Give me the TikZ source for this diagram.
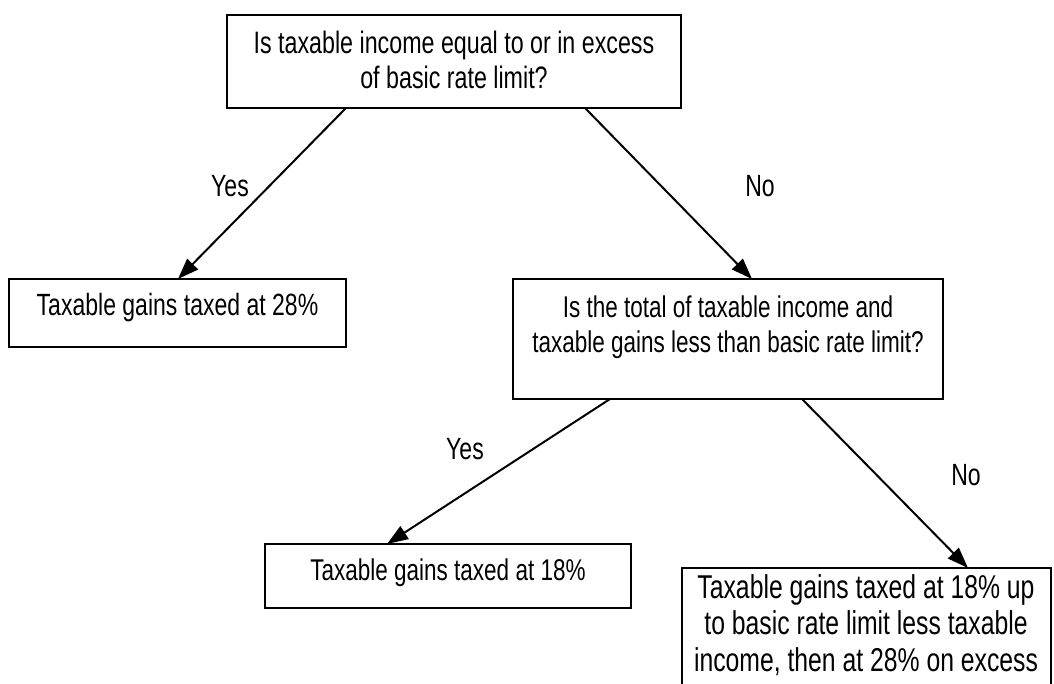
\documentclass[tikz,border=0pt]{standalone}
\usepackage{fontspec}
\setmainfont[FakeStretch=0.75]{Liberation Sans}
\usetikzlibrary{arrows.meta}
\tikzset{
  box/.style={draw=black, line width=2pt, rectangle, inner sep=0pt, outer sep=0pt, anchor=north west},
  txt/.style={inner sep=0pt, anchor=north, align=center, font=\fontsize{30.7}{35}\selectfont},
  lbl/.style={inner sep=0pt, font=\fontsize{30.7}{35}\selectfont},
  arr/.style={line width=2pt, -{Triangle[length=21pt,width=15pt]}}
}
\begin{document}
\begin{tikzpicture}[x=1pt,y=-1pt]
\useasboundingbox (0,0) rectangle (1054,684);
\clip (0,0) rectangle (1054,684);
% boxes
\node[box, minimum width=454pt, minimum height=93pt] (q1) at (227,15) {};
\node[box, minimum width=337pt, minimum height=68pt] (q2) at (9,279) {};
\node[box, minimum width=430pt, minimum height=120pt] (q3) at (513,279) {};
\node[box, minimum width=366pt, minimum height=64pt] (q4) at (265,544) {};
\node[box, minimum width=369pt, minimum height=160pt] (q5) at (682,568) {};
% texts
\node[txt, font=\fontsize{31}{35}\selectfont] (t1) at (454,31) {Is taxable income equal to or in excess\\of basic rate limit?};
\node[txt] (t2) at (177.5,293) {Taxable gains taxed at 28\%};
\node[txt, font=\fontsize{30}{35}\selectfont] (t3) at (728,296) {Is the total of taxable income and\\taxable gains less than basic rate limit?};
\node[txt, font=\fontsize{30}{35}\selectfont] (t4) at (448,559) {Taxable gains taxed at 18\%};
\node[txt, font=\fontsize{33}{36.5}\selectfont] (t5) at (866,574) {Taxable gains taxed at 18\% up\\to basic rate limit less taxable\\income, then at 28\% on excess};
% labels
\node[lbl] (y1) at (230,186) {Yes};
\node[lbl] (n1) at (760,186) {No};
\node[lbl] (y2) at (465,449) {Yes};
\node[lbl] (n2) at (966,475) {No};
% connectors
\draw[arr] ([xshift=119pt]q1.south west) -- ([xshift=169pt]q2.north west);
\draw[arr] ([xshift=358pt]q1.south west) -- ([xshift=239pt]q3.north west);
\draw[arr] ([xshift=97pt]q3.south west) -- ([xshift=122pt]q4.north west);
\draw[arr] ([xshift=289pt]q3.south west) -- ([xshift=286pt]q5.north west);
\end{tikzpicture}
\end{document}
